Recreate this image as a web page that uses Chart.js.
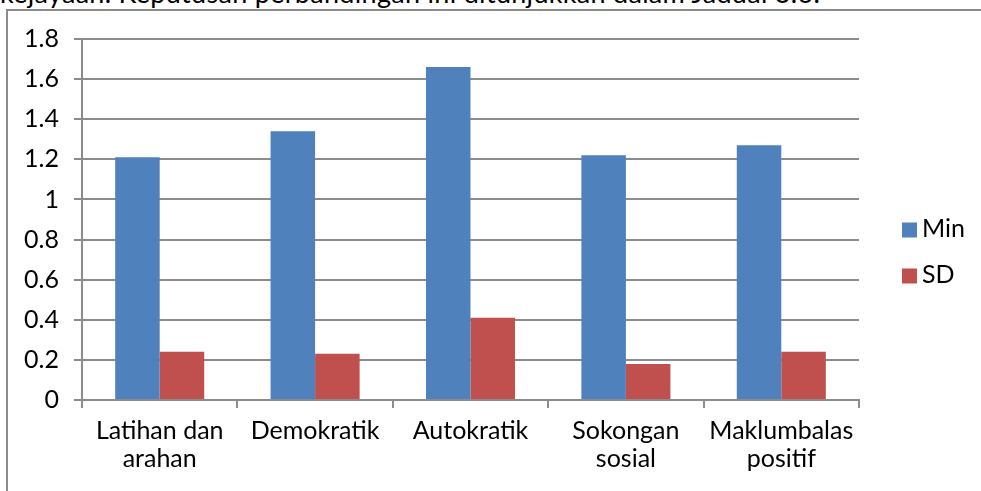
<!DOCTYPE html>
<html>
<head>
    <title>Min dan SD gaya kepimpinan</title>
    <script src="https://cdn.jsdelivr.net/npm/chart.js"></script>
    <style>
        body { margin: 0; background: #fff; overflow: hidden; }
        #para {
            position: absolute; left: 0; top: -24px; white-space: nowrap;
            font-family: Lato, sans-serif; font-size: 27px; letter-spacing: 0.3px; color: #000;
        }
        #frame {
            position: absolute; left: 6px; top: 9px; width: 1000px; height: 500px;
            border-left: 2px solid #8c8c8c; border-top: 2px solid #8c8c8c;
        }
        #wrap { position: absolute; left: 0; top: 0; width: 981px; height: 491px; }
    </style>
</head>
<body>
    <div id="para">kejayaan. Keputusan perbandingan ini ditunjukkan dalam Jadual 3.6.</div>
    <div id="frame"></div>
    <div id="wrap"><canvas id="myChart"></canvas></div>
    <script>
        const categories = [['Latihan dan', 'arahan'], 'Demokratik', 'Autokratik', ['Sokongan', 'sosial'], ['Maklumbalas', 'positif']];
        const minValues = [1.21, 1.34, 1.66, 1.22, 1.27];
        const sdValues = [0.24, 0.23, 0.41, 0.18, 0.24];
        const seriesNames = ['Min', 'SD'];

        const gridColor = '#8c8c8c';
        const font = { family: 'Lato', size: 25, lineHeight: 1.12 };

        // Legend on the right, square swatches like the office chart
        const sideLegend = {
            id: 'sideLegend',
            afterDraw(chart) {
                const ctx = chart.ctx;
                const x = chart.chartArea.right + 43;
                const rowGap = 46;
                const sets = chart.data.datasets;
                const top = 253 - (sets.length - 1) * rowGap / 2;
                ctx.save();
                ctx.font = '25px Lato';
                ctx.textBaseline = 'middle';
                sets.forEach((ds, i) => {
                    const cy = top + i * rowGap;
                    ctx.fillStyle = ds.backgroundColor;
                    ctx.fillRect(x, cy - 7.5, 15, 15);
                    ctx.fillStyle = '#000';
                    ctx.fillText(ds.label, x + 20, cy - 1);
                });
                ctx.restore();
            }
        };

        const ctx = document.getElementById('myChart').getContext('2d');
        const myChart = new Chart(ctx, {
            type: 'bar',
            data: {
                labels: categories,
                datasets: [{
                    label: seriesNames[0],
                    data: minValues,
                    backgroundColor: '#4F81BD'
                }, {
                    label: seriesNames[1],
                    data: sdValues,
                    backgroundColor: '#C0504D'
                }]
            },
            options: {
                responsive: true,
                maintainAspectRatio: false,
                animation: false,
                layout: { padding: { top: 39, right: 122, left: 0, bottom: 0 } },
                datasets: { bar: { categoryPercentage: 0.573, barPercentage: 1 } },
                plugins: {
                    legend: { display: false },
                    tooltip: { enabled: false }
                },
                scales: {
                    x: {
                        grid: {
                            display: true,
                            drawOnChartArea: false,
                            color: gridColor,
                            lineWidth: 2,
                            tickLength: 8
                        },
                        border: { color: gridColor, width: 2 },
                        ticks: { color: '#000', font: font, padding: 9, maxRotation: 0, autoSkip: false },
                        afterFit(scale) { scale.height = 91; }
                    },
                    y: {
                        min: 0,
                        max: 1.8,
                        grid: { color: gridColor, lineWidth: 2, tickLength: 8 },
                        border: { color: gridColor, width: 2 },
                        ticks: {
                            stepSize: 0.2,
                            color: '#000',
                            font: { family: 'Lato', size: 25 },
                            padding: 15,
                            callback: v => String(Number(v.toFixed(1)))
                        },
                        afterFit(scale) { scale.width = 82; }
                    }
                }
            },
            plugins: [sideLegend]
        });
    </script>
</body>
</html>
